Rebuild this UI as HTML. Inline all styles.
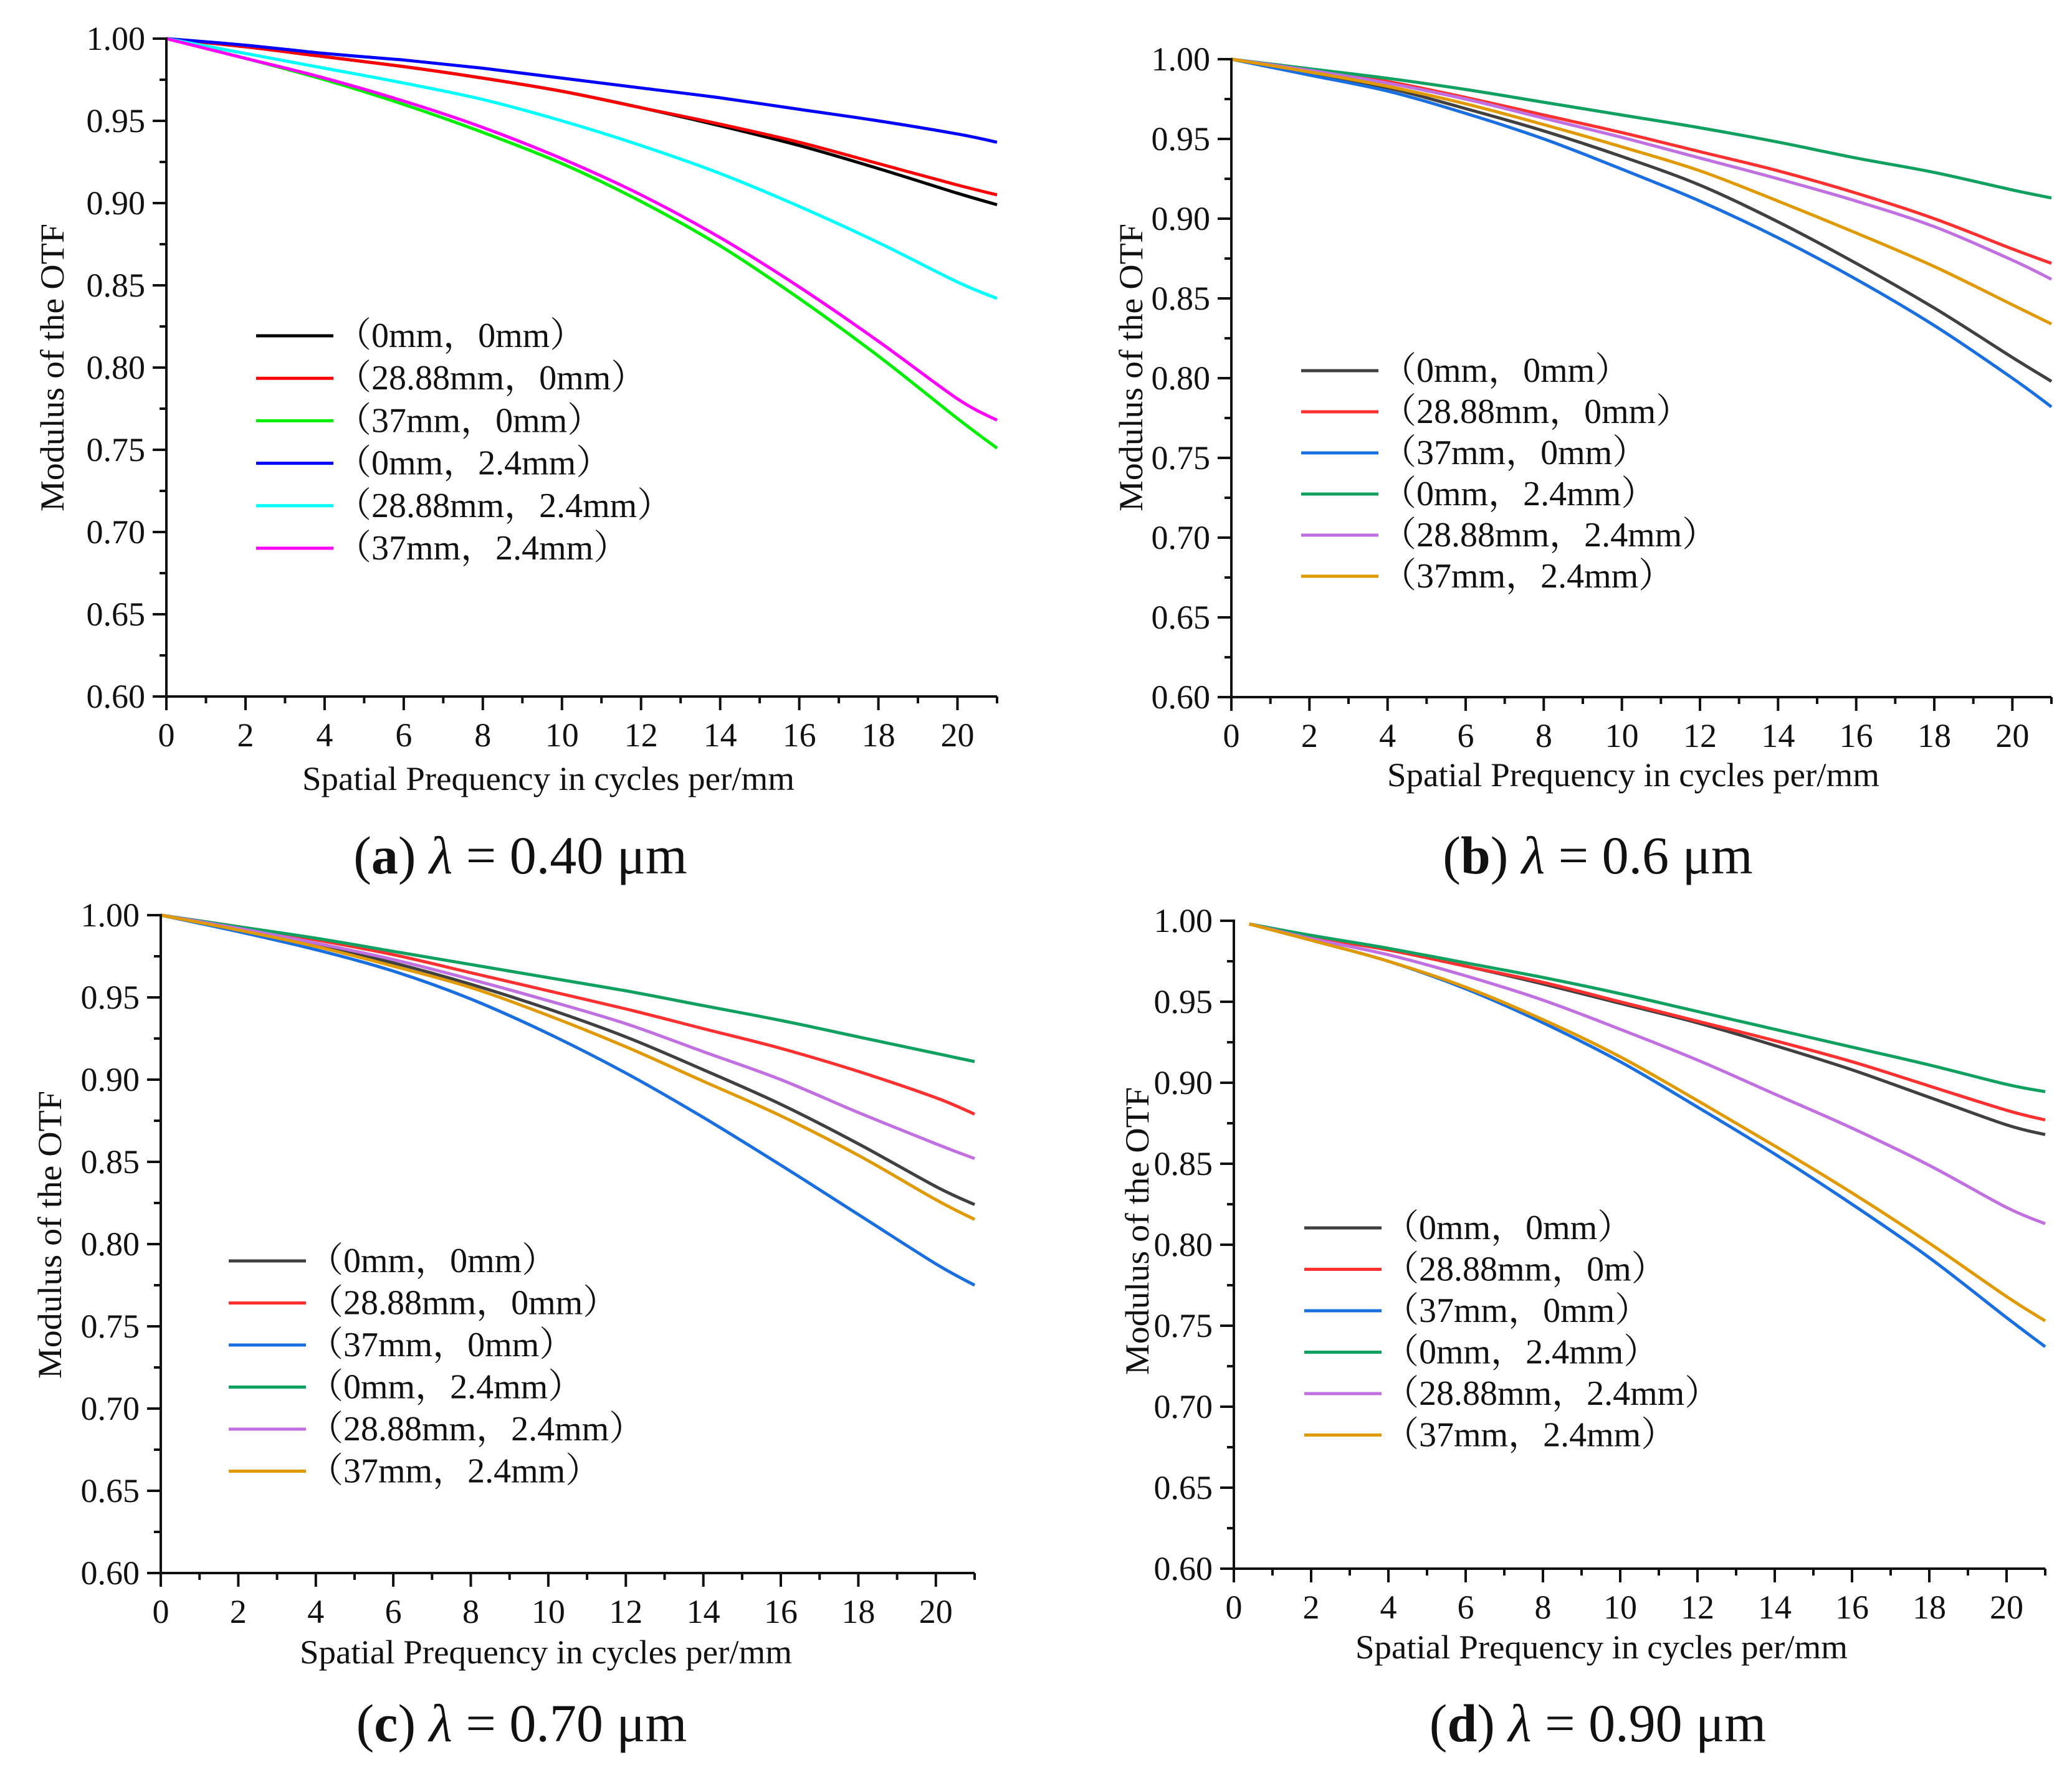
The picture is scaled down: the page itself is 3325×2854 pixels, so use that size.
<!DOCTYPE html>
<html><head><meta charset="utf-8"><style>
html,body{margin:0;padding:0;background:#fff;}
svg{display:block;}
text{font-family:"Liberation Serif","Noto Serif CJK SC",serif;fill:#111;}
</style></head><body>
<svg id="fig" width="3325" height="2854" viewBox="0 0 3325 2854" xmlns="http://www.w3.org/2000/svg"></svg>
<script>
const xsStd = [0,2,4,6,8,10,12,14,16,18,20,21];
const xsD = [0.4,2,4,6,8,10,12,14,16,18,20,21];
const legendLabels = ["（0mm，0mm）","（28.88mm，0mm）","（37mm，0mm）","（0mm，2.4mm）","（28.88mm，2.4mm）","（37mm，2.4mm）"];
const legendLabelsD = ["（0mm，0mm）","（28.88mm，0m）","（37mm，0mm）","（0mm，2.4mm）","（28.88mm，2.4mm）","（37mm，2.4mm）"];
const xTicks = [0,2,4,6,8,10,12,14,16,18,20];
const yTicks = [0.60,0.65,0.70,0.75,0.80,0.85,0.90,0.95,1.00];
const yTickLabels = ["0.60","0.65","0.70","0.75","0.80","0.85","0.90","0.95","1.00"];

// panel a (0.40 um)
const aBlack   = [1,.995,.989,.983,.976,.968,.958,.947,.935,.921,.906,.899];
const aRed     = [1,.995,.989,.983,.976,.968,.958,.948,.937,.924,.911,.905];
const aGreen   = [1,.988,.975,.960,.943,.924,.901,.874,.842,.807,.769,.751];
const aBlue    = [1,.996,.991,.987,.982,.976,.970,.964,.957,.950,.942,.937];
const aCyan    = [1,.991,.982,.973,.963,.950,.935,.918,.898,.876,.852,.842];
const aMagenta = [1,.988,.976,.962,.946,.927,.905,.879,.849,.816,.781,.768];
// panel b (0.6 um)
const bBlack  = [1,.991,.982,.969,.955,.939,.921,.898,.872,.844,.813,.798];
const bRed    = [1,.993,.986,.976,.965,.954,.942,.930,.916,.900,.881,.872];
const bBlue   = [1,.990,.980,.966,.950,.931,.911,.888,.862,.833,.800,.782];
const bGreen  = [1,.994,.988,.981,.973,.965,.957,.948,.938,.929,.918,.913];
const bPurple = [1,.993,.985,.975,.963,.951,.938,.925,.911,.895,.874,.862];
const bOrange = [1,.992,.983,.972,.959,.945,.930,.911,.891,.870,.846,.834];
// panel c (0.70 um)
const cBlack  = [1,.991,.982,.971,.958,.943,.926,.906,.885,.861,.835,.824];
const cRed    = [1,.993,.985,.976,.965,.954,.943,.931,.919,.905,.889,.879];
const cBlue   = [1,.990,.979,.966,.949,.928,.904,.877,.848,.818,.788,.775];
const cGreen  = [1,.993,.986,.978,.970,.962,.954,.945,.936,.926,.916,.911];
const cPurple = [1,.992,.983,.973,.961,.948,.934,.917,.900,.880,.861,.852];
const cOrange = [1,.991,.981,.969,.956,.939,.920,.899,.878,.854,.827,.815];
// panel d (0.90 um)
const dBlack  = [.998,.990,.982,.972,.961,.949,.937,.923,.908,.891,.874,.868];
const dRed    = [.998,.990,.982,.972,.962,.950,.938,.926,.913,.898,.883,.877];
const dBlue   = [.998,.988,.975,.958,.937,.913,.885,.856,.825,.792,.755,.737];
const dGreen  = [.998,.991,.983,.974,.965,.955,.944,.933,.922,.911,.899,.8945];
const dPurple = [.998,.989,.979,.966,.951,.933,.914,.893,.872,.849,.823,.813];
const dOrange = [.998,.988,.975,.959,.939,.916,.889,.861,.832,.801,.768,.753];

const colA = ["#000000","#ff0000","#00ee00","#0000ff","#00ffff","#ff00ff"];
const colB = ["#404040","#ff3030","#1a6fe0","#10a060","#c070e0","#e09a00"];

const panels = [
 {id:"a", xs:xsStd, series:[aBlack,aRed,aGreen,aBlue,aCyan,aMagenta], cols:colA, labels:legendLabels,
  x0:267,x1:1600,y1:62,y0:1118, legX:411,legT:540,legY:539,legDy:68.2,
  yt:[85,590], xt:[880,1268], cap:[835,1402], capL:"a", capR:"0.40"},
 {id:"b", xs:xsStd, series:[bBlack,bRed,bBlue,bGreen,bPurple,bOrange], cols:colB, labels:legendLabels,
  x0:1976,x1:3292,y1:95,y0:1119, legX:2088,legT:2217,legY:595,legDy:66,
  yt:[1816,590], xt:[2621,1262], cap:[2564,1402], capL:"b", capR:"0.6"},
 {id:"c", xs:xsStd, series:[cBlack,cRed,cBlue,cGreen,cPurple,cOrange], cols:colB, labels:legendLabels,
  x0:258,x1:1564,y1:1469,y0:2525, legX:367,legT:495,legY:2024,legDy:67.5,
  yt:[81,1982], xt:[876,2670], cap:[837,2795], capL:"c", capR:"0.70"},
 {id:"d", xs:xsD, series:[dBlack,dRed,dBlue,dGreen,dPurple,dOrange], cols:colB, labels:legendLabelsD,
  x0:1980,x1:3282,y1:1478,y0:2518, legX:2093,legT:2221,legY:1971,legDy:66.5,
  yt:[1826,1976], xt:[2570,2662], cap:[2564,2795], capL:"d", capR:"0.90"}
];
const svg = document.getElementById("fig");
const NS = "http://www.w3.org/2000/svg";
function mk(tag, attrs, parent){const e=document.createElementNS(NS,tag);for(const k in attrs)e.setAttribute(k,attrs[k]);(parent||svg).appendChild(e);return e;}
function smooth(pts){let d="M"+pts[0][0].toFixed(1)+","+pts[0][1].toFixed(1);
 for(let i=0;i<pts.length-1;i++){const p0=pts[Math.max(0,i-1)],p1=pts[i],p2=pts[i+1],p3=pts[Math.min(pts.length-1,i+2)];
  const c1=[p1[0]+(p2[0]-p0[0])/6,p1[1]+(p2[1]-p0[1])/6],c2=[p2[0]-(p3[0]-p1[0])/6,p2[1]-(p3[1]-p1[1])/6];
  d+=" C"+c1.map(v=>v.toFixed(1))+" "+c2.map(v=>v.toFixed(1))+" "+p2.map(v=>v.toFixed(1));}
 return d;}

panels.forEach(p=>{
 const g=mk("g",{});
 
 
 const sx=v=>p.x0+(v/21)*(p.x1-p.x0);
 const sy=v=>p.y0-(v-0.6)/0.4*(p.y0-p.y1);
 p.series.forEach((s,i)=>{
  const pts=s.map((v,j)=>[sx(p.xs[j]),sy(v)]);
  const path=mk("path",{d:smooth(pts),fill:"none",stroke:p.cols[i],"stroke-width":5,"stroke-linejoin":"round"},g);
  
  
 });
 const ax=mk("path",{d:`M${p.x0},${p.y1-2} V${p.y0} H${p.x1}`,fill:"none",stroke:"#111","stroke-width":4},g);
 
 
 let td="";
 for(let v=0;v<=21;v++){td+=`M${sx(v).toFixed(1)},${p.y0} v${v%2==0?22:11} `;}
 for(let k=0;k<=16;k++){const v=0.6+k*0.025;td+=`M${p.x0},${sy(v).toFixed(1)} h${k%2==0?-22:-11} `;}
 mk("path",{d:td,stroke:"#111","stroke-width":4,fill:"none"},g);
 xTicks.forEach(v=>{const t=mk("text",{x:sx(v),y:p.y0+80,"text-anchor":"middle","font-size":54},g);t.textContent=v;
  
  });
 yTicks.forEach((v,k)=>{const t=mk("text",{x:p.x0-34,y:sy(v)+18,"text-anchor":"end","font-size":54},g);t.textContent=yTickLabels[k];
  
  });
 const yt=mk("text",{x:p.yt[0],y:p.yt[1],"text-anchor":"middle","font-size":54,textLength:462,lengthAdjust:"spacingAndGlyphs",transform:`rotate(-90 ${p.yt[0]} ${p.yt[1]}) translate(0 17)`},g);
 yt.textContent="Modulus of the OTF";
 
 
 const xt=mk("text",{x:p.xt[0],y:p.xt[1],"text-anchor":"middle","font-size":54,textLength:790,lengthAdjust:"spacingAndGlyphs"},g);
 xt.textContent="Spatial Prequency in cycles per/mm";
 
 
 p.labels.forEach((lab,i)=>{
  const yy=p.legY+i*p.legDy;
  const l=mk("line",{x1:p.legX,x2:p.legX+124,y1:yy,y2:yy,stroke:p.cols[i],"stroke-width":5},g);
  
  
  const t=mk("text",{x:p.legT,y:yy+18,"font-size":56},g);
  t.textContent=lab;
  
  
 });
 const c=mk("text",{x:p.cap[0],y:p.cap[1],"text-anchor":"middle","font-size":86},g);
 c.innerHTML=`(<tspan font-weight="bold">${p.capL}</tspan>) <tspan font-style="italic">λ</tspan> = ${p.capR} μm`;
 
 
});
</script>
</body></html>
